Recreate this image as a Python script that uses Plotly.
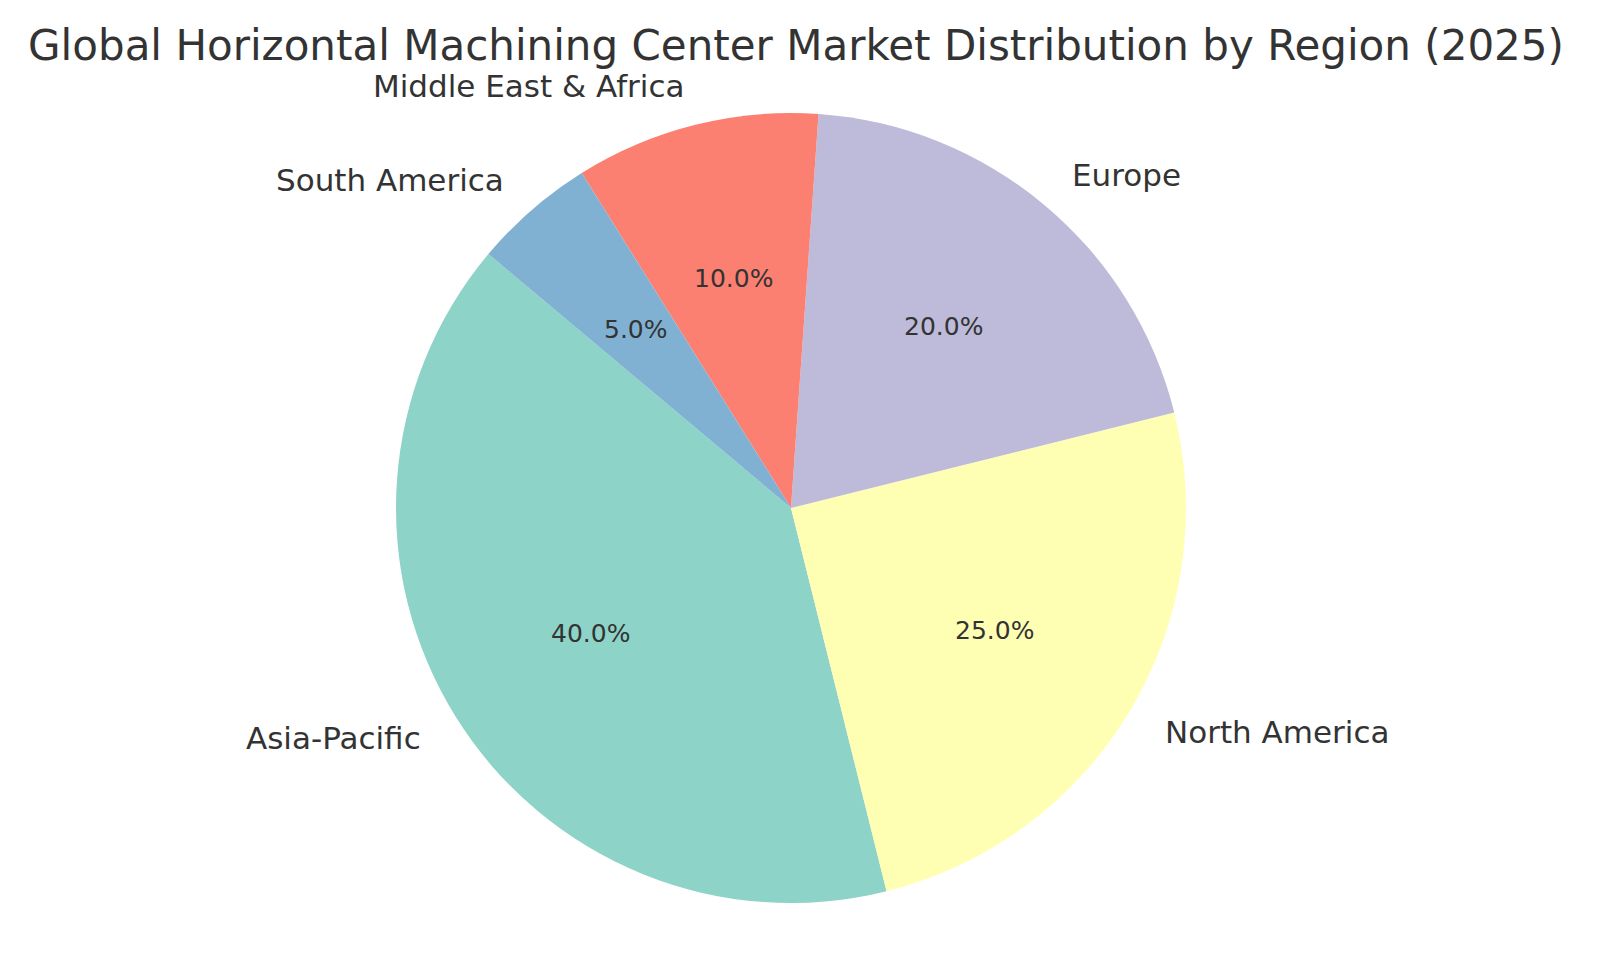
import numpy as np
import plotly.graph_objects as go

regions = ['Asia-Pacific', 'North America', 'Europe', 'Middle East & Africa', 'South America']
shares = [40, 25, 20, 10, 5]
colors = ['#8dd3c7', '#ffffb3', '#bebada', '#fb8072', '#80b1d3']

W, H = 1600, 973
cx, cy, r = 783, 500, 395
start = 140

# plotly places the first slice ending at `rotation` when counterclockwise
first_end = start + 360 * shares[0] / sum(shares)

fig = go.Figure(go.Pie(
    labels=regions, values=shares, sort=False, direction='counterclockwise',
    rotation=(90 - first_end) % 360, textinfo='none', hoverinfo='label+percent',
    marker=dict(colors=colors, line=dict(width=0)),
    domain=dict(x=[(cx - r) / W, (cx + r) / W], y=[(H - cy - r) / H, (H - cy + r) / H]),
))

# matplotlib-style labels: names at 1.1 r, percents at 0.6 r
total = sum(shares)
a0 = start
for name, v in zip(regions, shares):
    mid = np.radians(a0 + 360 * v / total / 2)
    a0 += 360 * v / total
    lx, ly = cx + 1.1 * r * np.cos(mid), cy - 1.1 * r * np.sin(mid)
    fig.add_annotation(x=lx / W, y=1 - ly / H, xref='paper', yref='paper', text=name,
                       showarrow=False, xanchor='left' if np.cos(mid) > 0 else 'right',
                       yanchor='middle', font=dict(size=31, color='#333333'))
    px_, py_ = cx + 0.6 * r * np.cos(mid), cy - 0.6 * r * np.sin(mid)
    fig.add_annotation(x=px_ / W, y=1 - py_ / H, xref='paper', yref='paper',
                       text=f'{v / total * 100:.1f}%', showarrow=False,
                       xanchor='center', yanchor='middle', font=dict(size=25, color='#333333'))

fig.update_layout(
    width=W, height=H, margin=dict(l=0, r=0, t=0, b=0),
    paper_bgcolor='white', showlegend=False,
    font=dict(family='DejaVu Sans', color='#333333'),
    title=dict(text='Global Horizontal Machining Center Market Distribution by Region (2025)',
               x=0.4925, xanchor='center', y=1 - 37 / H, yanchor='middle',
               font=dict(size=42, color='#333333')),
)
fig.write_html('out.html')
